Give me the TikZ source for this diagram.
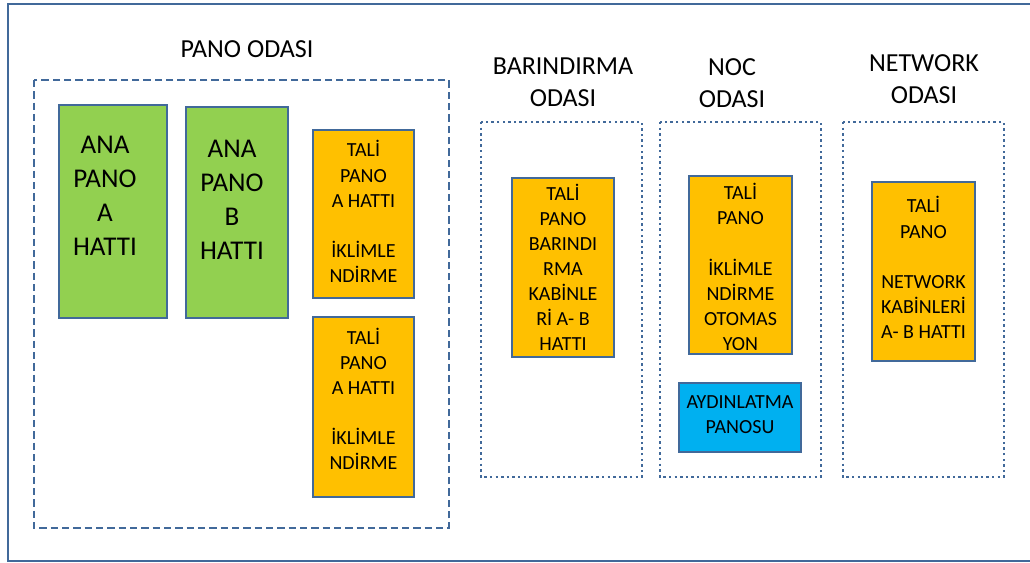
\documentclass[tikz,border=0pt]{standalone}
\usepackage{fontspec}
\setmainfont{Carlito}
\definecolor{frameblue}{HTML}{41699A}
\definecolor{boxblue}{HTML}{41699A}
\definecolor{greenfill}{HTML}{92D050}
\definecolor{orangefill}{HTML}{FFC000}
\definecolor{bluefill}{HTML}{00B0F0}
\tikzset{
  panel/.style={draw=boxblue, line width=1.7pt, inner sep=0pt, rectangle},
  greenbox/.style={panel, fill=greenfill},
  orangebox/.style={panel, fill=orangefill},
  bluebox/.style={panel, fill=bluefill},
  roomdashed/.style={draw=frameblue, line width=1.5pt, dash pattern=on 5.5pt off 3pt},
  roomdotted/.style={draw=frameblue, line width=1.8pt, dash pattern=on 1.8pt off 2.4pt},
  titletxt/.style={inner sep=0pt, align=center, font={\fontsize{19.5}{24}\selectfont}},
  bigtxt/.style={inner sep=0pt, align=center, font={\fontsize{20.3}{25.5}\selectfont}},
  smalltxt/.style={inner sep=0pt, align=center, font={\fontsize{15}{18.8}\selectfont}},
}
\begin{document}
\begin{tikzpicture}[x=0.75pt, y=-0.75pt]
\useasboundingbox (0,0) rectangle (1030,563);
% outer frame
\draw[draw=frameblue, line width=1.9pt] (1040,4) -- (8,4) -- (8,561) -- (1040,561);
% room frames
\draw[roomdashed] (34,80) rectangle (449,528);
\draw[roomdotted] (481,122) rectangle (642,477);
\draw[roomdotted] (660,122) rectangle (821,477);
\draw[roomdotted] (843,122) rectangle (1004,477);
% titles
\node[titletxt] (t1) at (247,49) {PANO ODASI};
\node[titletxt] (t2) at (563,82) {BARINDIRMA\\ODASI};
\node[titletxt] (t3) at (732,83.5) {NOC\\ODASI};
\node[titletxt] (t4) at (924,79.5) {NETWORK\\ODASI};
% green boxes
\node[greenbox, minimum width=108*0.75pt, minimum height=213*0.75pt] (ga) at (113,211.5) {};
\node[bigtxt] (gat) at (105,196) {ANA\\PANO\\A\\HATTI};
\node[greenbox, minimum width=102*0.75pt, minimum height=211*0.75pt] (gb) at (237,212.5) {};
\node[bigtxt] (gbt) at (232,199.5) {ANA\\PANO\\B\\HATTI};
% orange boxes in PANO ODASI
\node[orangebox, minimum width=101*0.75pt, minimum height=168*0.75pt] (o1) at (363.5,214) {};
\node[smalltxt] (o1t) at (363.5,211.5) {TALİ\\PANO\\A HATTI\\[18.8pt]İKLİMLE\\NDİRME};
\node[orangebox, minimum width=101*0.75pt, minimum height=180*0.75pt] (o2) at (363.5,407) {};
\node[smalltxt] (o2t) at (363.5,399) {TALİ\\PANO\\A HATTI\\[18.8pt]İKLİMLE\\NDİRME};
% BARINDIRMA
\node[orangebox, minimum width=102*0.75pt, minimum height=179*0.75pt] (o3) at (563,267.5) {};
\node[smalltxt] (o3t) at (563,267.5) {TALİ\\PANO\\BARINDI\\RMA\\KABİNLE\\Rİ A- B\\HATTI};
% NOC
\node[orangebox, minimum width=103*0.75pt, minimum height=178*0.75pt] (o4) at (740.5,265) {};
\node[smalltxt] (o4t) at (740.5,267) {TALİ\\PANO\\[18.8pt]İKLİMLE\\NDİRME\\OTOMAS\\YON};
\node[bluebox, minimum width=122*0.75pt, minimum height=69*0.75pt] (b1) at (740,417.5) {};
\node[smalltxt] (b1t) at (740,415) {AYDINLATMA\\PANOSU};
% NETWORK
\node[orangebox, minimum width=103*0.75pt, minimum height=179*0.75pt] (o5) at (923.5,271.5) {};
\node[smalltxt] (o5t) at (923.5,267.5) {TALİ\\PANO\\[18.8pt]NETWORK\\KABİNLERİ\\A- B HATTI};
\end{tikzpicture}
\end{document}
